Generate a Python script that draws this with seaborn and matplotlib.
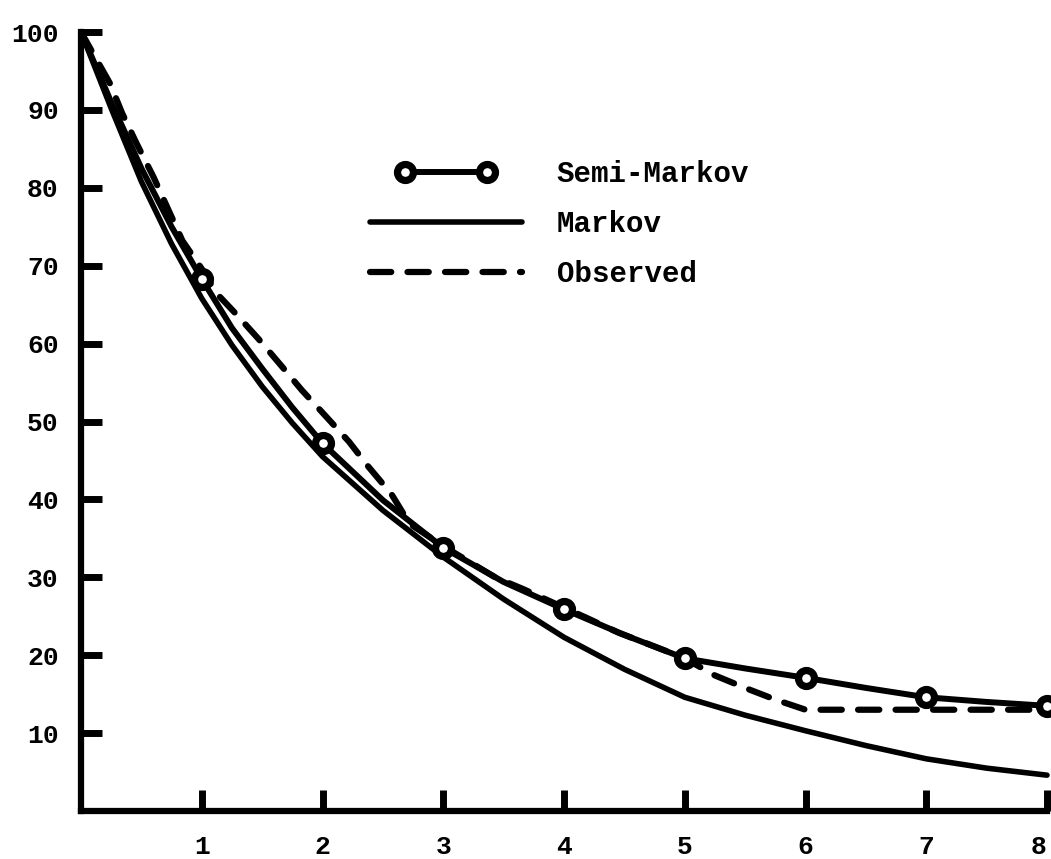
import numpy as np
import pandas as pd
import matplotlib
matplotlib.use("Agg")
import matplotlib.pyplot as plt
import seaborn as sns
from matplotlib.lines import Line2D
from matplotlib.legend_handler import HandlerLine2D
from matplotlib.font_manager import FontProperties

# ---- data ----
semi_t = [0, 0.25, 0.5, 0.75, 1, 1.25, 1.5, 1.75, 2, 2.5, 3, 3.5, 4, 4.5, 5, 5.5, 6, 6.5, 7, 7.5, 8]
semi_v = [100, 91.0, 82.5, 75.0, 68.3, 62.0, 56.8, 51.8, 47.2, 39.9, 33.8, 29.4, 25.9, 22.6,
          19.6, 18.3, 17.1, 15.8, 14.6, 14.0, 13.5]

markov_t = [0, 0.25, 0.5, 0.75, 1, 1.25, 1.5, 1.75, 2, 2.5, 3, 3.5, 4, 4.5, 5, 5.5, 6, 6.5, 7, 7.5, 8]
markov_v = [100, 90.2, 80.8, 72.8, 65.8, 59.8, 54.5, 49.8, 45.5, 38.6, 32.6, 27.2, 22.3, 18.2,
            14.6, 12.3, 10.3, 8.4, 6.7, 5.5, 4.6]

obs_t = [0, 0.24, 0.34, 0.46, 0.6, 0.72, 0.84, 1.0, 1.12, 1.29, 1.47, 1.64, 1.83, 2.02, 2.22,
         2.38, 2.57, 2.72, 3.0, 3.43, 3.66, 4.2, 4.45, 4.72, 5.0, 5.25, 5.5, 5.75, 6.0, 7.0, 8.0]
obs_v = [100, 93.4, 89.6, 85.7, 81.4, 77.3, 73.2, 69.6, 66.5, 63.7, 60.6, 57.5, 54.0, 50.8, 47.4,
         44.2, 40.7, 36.9, 34.0, 30.0, 28.5, 24.7, 22.9, 21.3, 19.6, 17.4, 15.8, 14.3, 13.0, 13.0, 13.0]

x_ticks = [1, 2, 3, 4, 5, 6, 7, 8]
y_ticks = [10, 20, 30, 40, 50, 60, 70, 80, 90, 100]
series_labels = ["Semi-Markov", "Markov", "Observed"]

# ---- style ----
sns.set_style("ticks")
plt.rcParams["font.family"] = ["Liberation Mono", "DejaVu Sans"]
plt.rcParams["font.weight"] = "bold"
plt.rcParams["text.color"] = "black"
plt.rcParams["xtick.color"] = "black"
plt.rcParams["ytick.color"] = "black"
plt.rcParams["axes.edgecolor"] = "black"

W, H = 1051, 859
fig = plt.figure(figsize=(W / 100, H / 100), dpi=100)
ax = fig.add_axes([81 / W, 1 - 811 / H, (1047 - 81) / W, (811 - 32) / H])

semi_df = pd.DataFrame({"t": semi_t, "v": semi_v})
markov_df = pd.DataFrame({"t": markov_t, "v": markov_v})
obs_df = pd.DataFrame({"t": obs_t, "v": obs_v})

mark_idx = [i for i, t in enumerate(semi_t) if t >= 1 and float(t).is_integer()]
dash = (0, (3.4, 2.6))

sns.lineplot(data=markov_df, x="t", y="v", ax=ax, color="black", lw=4.0,
             errorbar=None, clip_on=False, solid_capstyle="round")
sns.lineplot(data=obs_df, x="t", y="v", ax=ax, color="black", lw=4.5,
             linestyle=dash, dash_capstyle="round", errorbar=None, clip_on=False)
sns.lineplot(data=semi_df, x="t", y="v", ax=ax, color="black", lw=4.3,
             marker="o", markevery=mark_idx, markersize=11.5, markeredgewidth=5.2,
             markerfacecolor="white", markeredgecolor="black",
             errorbar=None, clip_on=False, solid_capstyle="round", zorder=5)

ax.set_xlim(0, 8)
ax.set_ylim(0, 100)
ax.set_xticks(x_ticks)
ax.set_yticks(y_ticks)
ax.set_xticklabels([str(v) for v in x_ticks])
ax.set_yticklabels([str(v) for v in y_ticks])
ax.set_xlabel("")
ax.set_ylabel("")

sns.despine(ax=ax)
for s in ["left", "bottom"]:
    ax.spines[s].set_linewidth(4.5)
    ax.spines[s].set_color("black")
    ax.spines[s].set_capstyle("projecting")

ax.tick_params(axis="both", direction="in", length=15, width=5, color="black",
               labelcolor="black")
ax.tick_params(axis="y", pad=16, labelsize=19)
ax.tick_params(axis="x", pad=17, labelsize=19)
for lab in ax.get_xticklabels() + ax.get_yticklabels():
    lab.set_fontweight("bold")
# keep the last x label inside the canvas (it sits at the right edge)
ax.get_xticklabels()[-1].set_horizontalalignment("right")

h1 = Line2D([], [], color="black", lw=4.3, marker="o", markersize=11.5, markeredgewidth=5.2,
            markerfacecolor="white", markeredgecolor="black")
h2 = Line2D([], [], color="black", lw=4.0)
h3 = Line2D([], [], color="black", lw=4.5, linestyle=dash, dash_capstyle="round")
leg = ax.legend([h1, h2, h3], series_labels,
                handler_map={h1: HandlerLine2D(numpoints=2, marker_pad=1.2)},
                loc="upper left", bbox_to_anchor=(370 / W, 1 - 160 / H),
                bbox_transform=fig.transFigure, frameon=False,
                prop=FontProperties(family="Liberation Mono", weight="bold", size=21),
                handlelength=5.2, handletextpad=1.2, labelspacing=0.75,
                borderpad=0, borderaxespad=0)
for txt in leg.get_texts():
    txt.set_color("black")

fig.savefig("out.png", dpi=100, facecolor="white")
